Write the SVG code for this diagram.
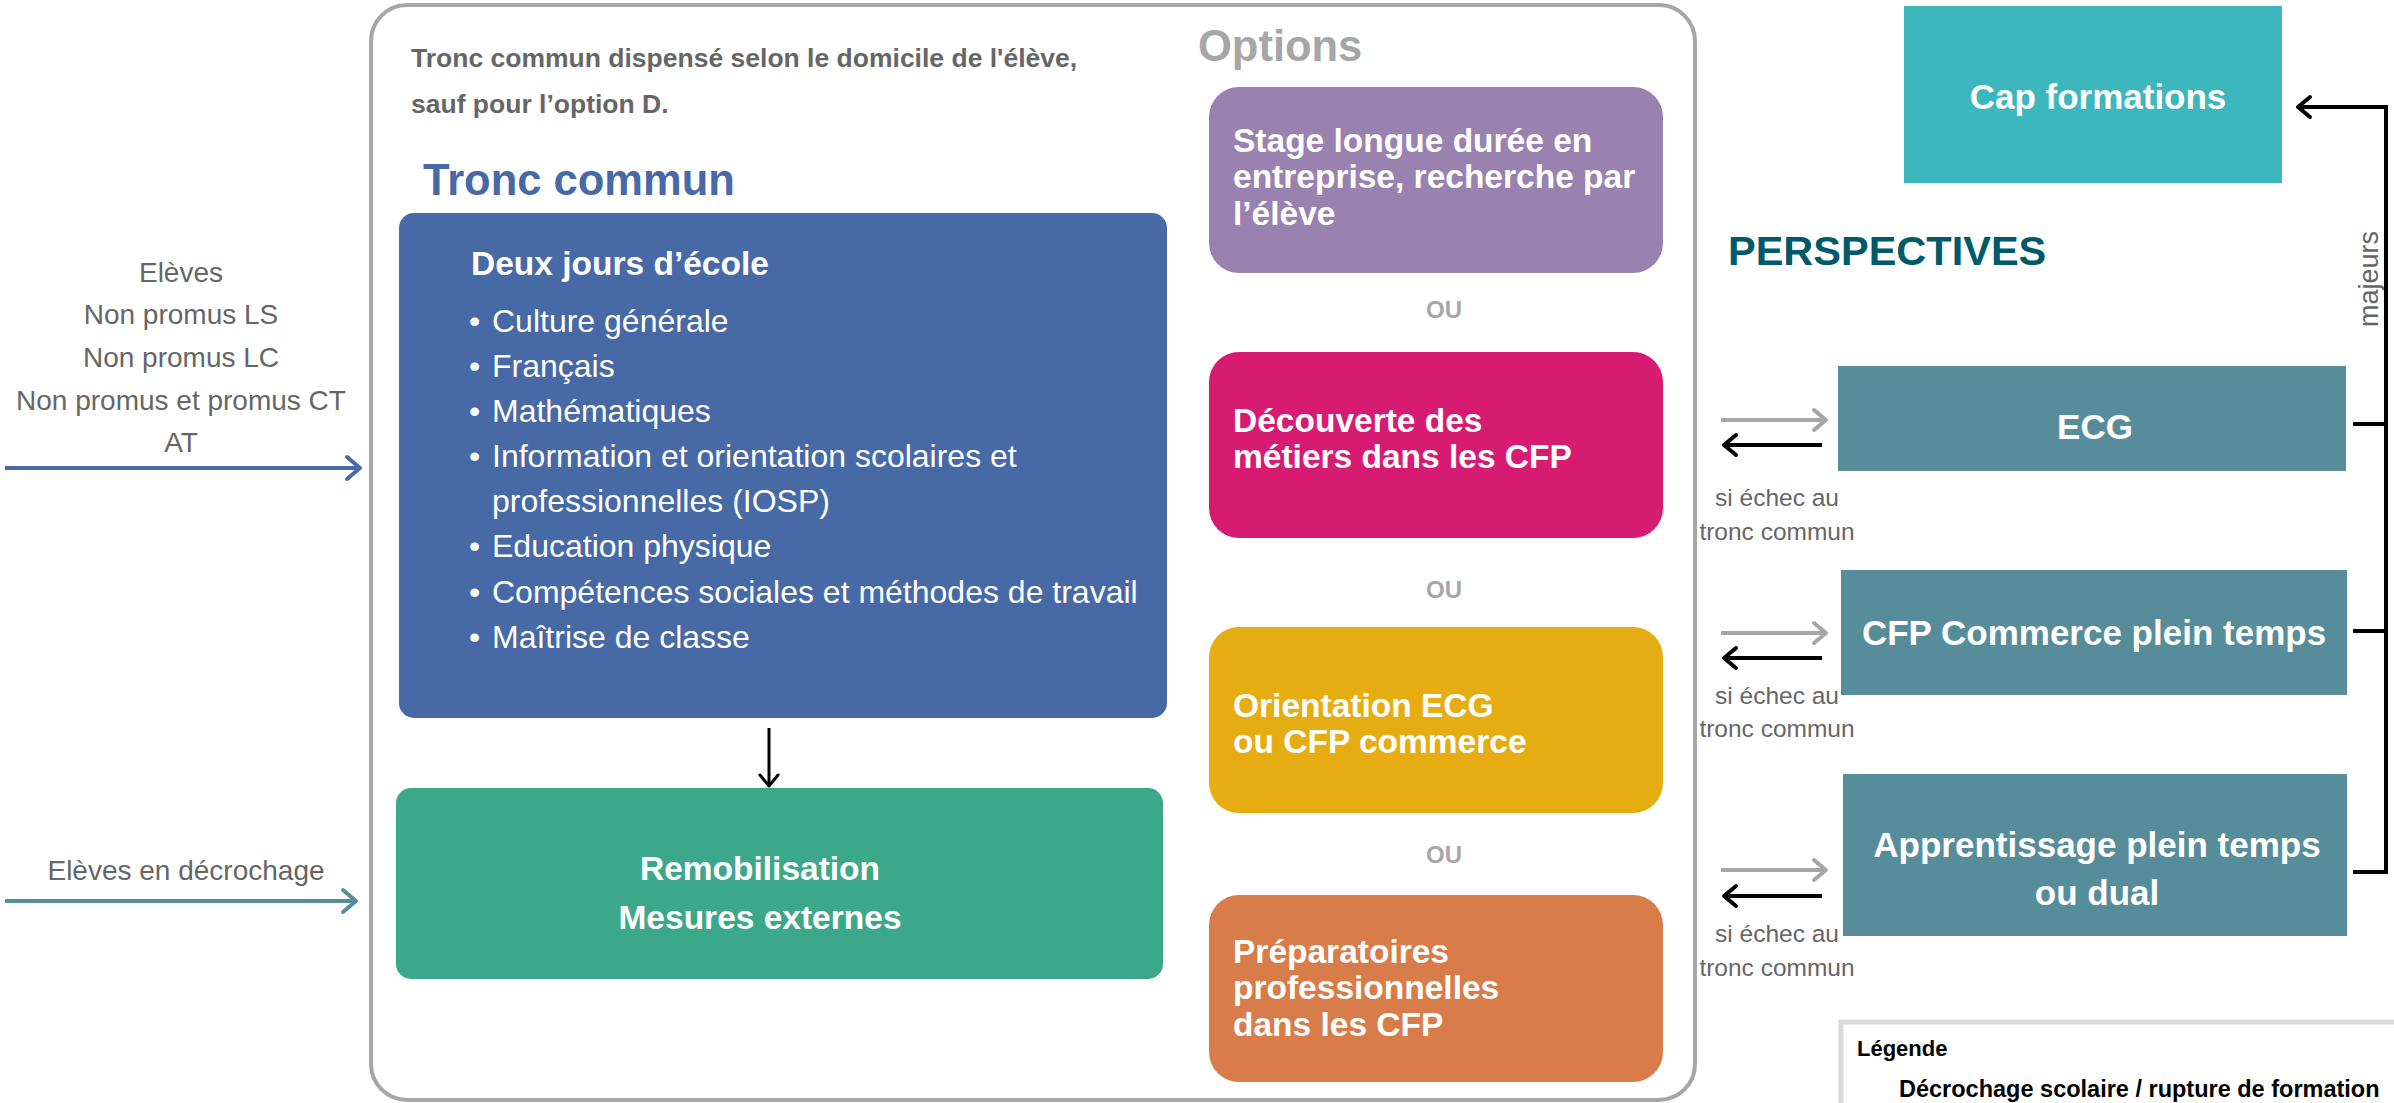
<svg xmlns="http://www.w3.org/2000/svg" width="2394" height="1103" viewBox="0 0 2394 1103">
<style>
text{font-family:"Liberation Sans",Arial,sans-serif}
.b{font-weight:bold}
.w{fill:#fff}
.g{fill:#666}
.lg{fill:#a6a6a6}
.opt{font-size:33.5px;font-weight:bold;fill:#fff}
.bul{font-size:32px;fill:#fff}
.side{font-size:28px;fill:#666;text-anchor:middle}
.fail{font-size:24.5px;fill:#666;text-anchor:middle}
.persp{font-size:35px;font-weight:bold;fill:#fff;text-anchor:middle}
.ou{font-size:24px;font-weight:bold;fill:#a6a6a6;text-anchor:middle}
.ln{fill:none;stroke-width:4}
</style>
<defs>
<marker id="mBlue" markerUnits="userSpaceOnUse" markerWidth="24" markerHeight="28" refX="16" refY="14" orient="auto"><path d="M3,3 L16,14 L3,25" fill="none" stroke="#4769a5" stroke-width="4" stroke-linecap="round" stroke-linejoin="round"/></marker>
<marker id="mTeal" markerUnits="userSpaceOnUse" markerWidth="24" markerHeight="28" refX="16" refY="14" orient="auto"><path d="M3,3 L16,14 L3,25" fill="none" stroke="#578d9a" stroke-width="4" stroke-linecap="round" stroke-linejoin="round"/></marker>
<marker id="mGray" markerUnits="userSpaceOnUse" markerWidth="24" markerHeight="28" refX="16" refY="14" orient="auto"><path d="M4,4 L16,14 L4,24" fill="none" stroke="#a6a6a6" stroke-width="4" stroke-linecap="round" stroke-linejoin="round"/></marker>
<marker id="mBlack" markerUnits="userSpaceOnUse" markerWidth="24" markerHeight="28" refX="16" refY="14" orient="auto"><path d="M4,4 L16,14 L4,24" fill="none" stroke="#000" stroke-width="4" stroke-linecap="round" stroke-linejoin="round"/></marker>
<marker id="mBlackS" markerUnits="userSpaceOnUse" markerWidth="24" markerHeight="28" refX="16" refY="14" orient="auto"><path d="M5,5 L16,14 L5,23" fill="none" stroke="#000" stroke-width="3" stroke-linecap="round" stroke-linejoin="round"/></marker>
</defs>

<g id="container">
<rect x="371" y="5" width="1324" height="1095" rx="36" ry="36" fill="#fff" stroke="#a6a6a6" stroke-width="4"/>
<text x="411" y="67" class="b g" font-size="26.5">Tronc commun dispensé selon le domicile de l'élève,</text>
<text x="411" y="113" class="b g" font-size="26.5">sauf pour l’option D.</text>
<text x="423" y="195" class="b" font-size="43.5" fill="#4769a5">Tronc commun</text>
<text x="1198" y="61" class="b lg" font-size="43.5">Options</text>
</g>

<g id="inputs">
<text class="side" x="181" y="282">Elèves</text>
<text class="side" x="181" y="324">Non promus LS</text>
<text class="side" x="181" y="367">Non promus LC</text>
<text class="side" x="181" y="410">Non promus et promus CT</text>
<text class="side" x="181" y="452">AT</text>
<text class="side" x="186" y="880">Elèves en décrochage</text>
</g>

<g id="tronc-commun">
<rect x="399" y="213" width="768" height="505" rx="15" fill="#4769a5"/>
<text x="471" y="275" class="b w" font-size="33.5">Deux jours d’école</text>
<g class="bul">
<text x="469" y="332">•</text><text x="492" y="332">Culture générale</text>
<text x="469" y="377">•</text><text x="492" y="377">Français</text>
<text x="469" y="422">•</text><text x="492" y="422">Mathématiques</text>
<text x="469" y="467">•</text><text x="492" y="467">Information et orientation scolaires et</text>
<text x="492" y="512">professionnelles (IOSP)</text>
<text x="469" y="557">•</text><text x="492" y="557">Education physique</text>
<text x="469" y="603">•</text><text x="492" y="603">Compétences sociales et méthodes de travail</text>
<text x="469" y="648">•</text><text x="492" y="648">Maîtrise de classe</text>
</g>
</g>

<g id="remobilisation">
<rect x="396" y="788" width="767" height="191" rx="15" fill="#3ca88a"/>
<text x="760" y="880" class="b w" font-size="33.5" text-anchor="middle">Remobilisation</text>
<text x="760" y="929" class="b w" font-size="33.5" text-anchor="middle">Mesures externes</text>
</g>

<g id="option-stage">
<rect x="1209" y="87" width="454" height="186" rx="30" fill="#9982b0"/>
<text class="opt" x="1233" y="152">Stage longue durée en</text>
<text class="opt" x="1233" y="188">entreprise, recherche par</text>
<text class="opt" x="1233" y="225">l’élève</text>
</g>
<text class="ou" x="1444" y="318">OU</text>

<g id="option-decouverte">
<rect x="1209" y="352" width="454" height="186" rx="30" fill="#d81b72"/>
<text class="opt" x="1233" y="432">Découverte des</text>
<text class="opt" x="1233" y="468">métiers dans les CFP</text>
</g>
<text class="ou" x="1444" y="598">OU</text>

<g id="option-orientation">
<rect x="1209" y="627" width="454" height="186" rx="30" fill="#e6ad12"/>
<text class="opt" x="1233" y="717">Orientation ECG</text>
<text class="opt" x="1233" y="753">ou CFP commerce</text>
</g>
<text class="ou" x="1444" y="863">OU</text>

<g id="option-preparatoires">
<rect x="1209" y="895" width="454" height="187" rx="30" fill="#d87c4a"/>
<text class="opt" x="1233" y="963">Préparatoires</text>
<text class="opt" x="1233" y="999">professionnelles</text>
<text class="opt" x="1233" y="1036">dans les CFP</text>
</g>

<g id="cap-formations">
<rect x="1904" y="6" width="378" height="177" fill="#3bb7bd"/>
<text x="2098" y="109" class="persp">Cap formations</text>
</g>

<text x="1728" y="265" class="b" font-size="41.5" fill="#005a69">PERSPECTIVES</text>

<g id="ecg">
<rect x="1838" y="366" width="508" height="105" fill="#578d9a"/>
<text x="2095" y="439" class="persp">ECG</text>
</g>
<g id="cfp-commerce">
<rect x="1841" y="570" width="506" height="125" fill="#578d9a"/>
<text x="2094" y="645" class="persp">CFP Commerce plein temps</text>
</g>
<g id="apprentissage">
<rect x="1843" y="774" width="504" height="162" fill="#578d9a"/>
<text x="2097" y="857" class="persp">Apprentissage plein temps</text>
<text x="2097" y="905" class="persp">ou dual</text>
</g>

<g id="fail-labels">
<text class="fail" x="1777" y="506">si échec au</text>
<text class="fail" x="1777" y="540">tronc commun</text>
<text class="fail" x="1777" y="704">si échec au</text>
<text class="fail" x="1777" y="737">tronc commun</text>
<text class="fail" x="1777" y="942">si échec au</text>
<text class="fail" x="1777" y="976">tronc commun</text>
<text x="2378" y="279" font-size="27" fill="#666" text-anchor="middle" transform="rotate(-90 2378 279)">majeurs</text>
</g>

<g id="connectors">
<line class="ln" x1="5" y1="468" x2="360" y2="468" stroke="#4769a5" marker-end="url(#mBlue)"/>
<line class="ln" x1="5" y1="901" x2="356" y2="901" stroke="#578d9a" marker-end="url(#mTeal)"/>
<line x1="769" y1="728" x2="769" y2="786" stroke="#000" stroke-width="3" marker-end="url(#mBlackS)"/>
<line class="ln" x1="1721" y1="420" x2="1826" y2="420" stroke="#a6a6a6" marker-end="url(#mGray)"/>
<line class="ln" x1="1822" y1="445" x2="1724" y2="445" stroke="#000" marker-end="url(#mBlack)"/>
<line class="ln" x1="1721" y1="633" x2="1826" y2="633" stroke="#a6a6a6" marker-end="url(#mGray)"/>
<line class="ln" x1="1822" y1="658" x2="1724" y2="658" stroke="#000" marker-end="url(#mBlack)"/>
<line class="ln" x1="1721" y1="870" x2="1826" y2="870" stroke="#a6a6a6" marker-end="url(#mGray)"/>
<line class="ln" x1="1822" y1="896" x2="1724" y2="896" stroke="#000" marker-end="url(#mBlack)"/>
<path class="ln" d="M2353,872 H2386 V107 H2298" stroke="#000" marker-end="url(#mBlack)"/>
<path class="ln" d="M2353,424 H2386 M2353,631 H2386" stroke="#000"/>
</g>

<g id="legend">
<rect x="1841" y="1022" width="600" height="120" fill="#fff" stroke="#d9d9d9" stroke-width="5"/>
<text x="1857" y="1056" class="b" font-size="22" fill="#000">Légende</text>
<text x="1899" y="1097" class="b" font-size="23.5" fill="#000">Décrochage scolaire / rupture de formation</text>
</g>
</svg>
